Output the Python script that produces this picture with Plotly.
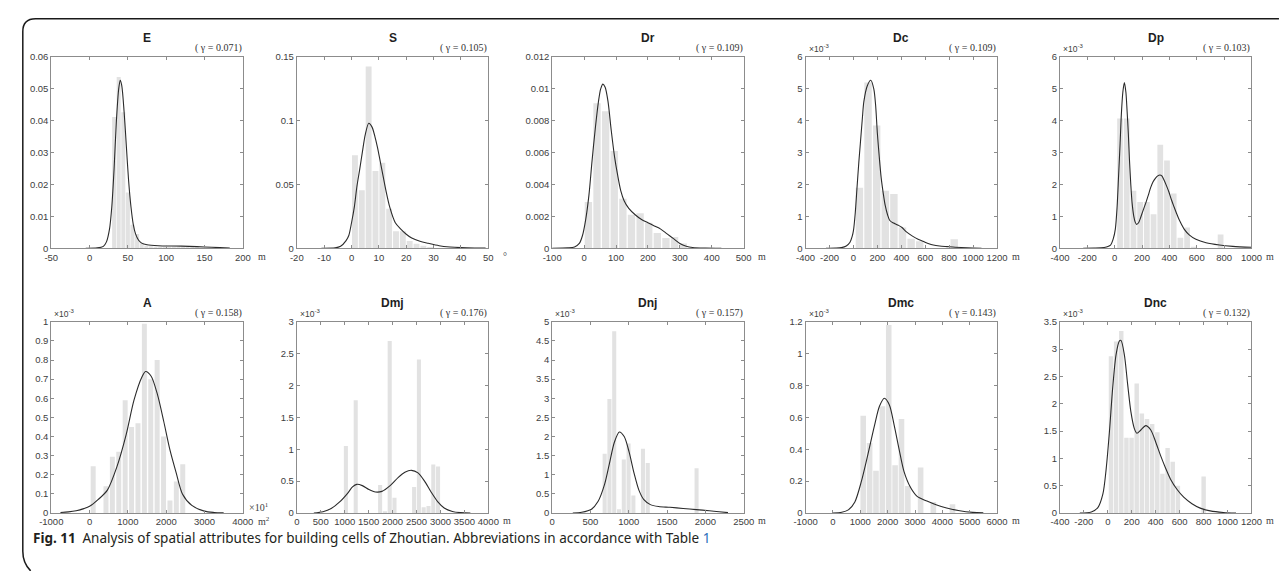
import plotly.graph_objects as go

W, H = 1287, 571

# ---------------- data ----------------
# E  (density)
E_bar_x = [32, 38, 44, 50, 56, 62, 68, 74, 80, 86, 92, 98, 104, 110, 116, 122, 128, 134, 140]
E_bar_y = [0.0412, 0.0537, 0.0427, 0.0175, 0.0074, 0.0045, 0.0017, 0.0008, 0.0006, 0.0005,
           0.0005, 0.0005, 0.0005, 0.0006, 0.0005, 0.0004, 0.0004, 0.0005, 0.0004]
E_kde_x = [-5, 10, 18, 22, 26, 29, 32, 35, 38, 40, 42, 45, 48, 51, 54, 57, 60, 64, 68, 75,
           90, 110, 130, 150, 170, 183]
E_kde_y = [0, 0.0001, 0.0006, 0.002, 0.006, 0.013, 0.025, 0.040, 0.050, 0.0527, 0.051, 0.043,
           0.032, 0.021, 0.013, 0.0075, 0.0045, 0.0025, 0.0016, 0.0011, 0.0008, 0.0007,
           0.0006, 0.0004, 0.0002, 0.00005]

# S
S_bar_x = [1.25, 3.75, 6.25, 8.75, 11.25, 13.75, 16.25, 18.75, 21.25, 23.75, 26.25, 28.75]
S_bar_y = [0.073, 0.0455, 0.1425, 0.0605, 0.067, 0.031, 0.0134, 0.0134, 0.0057, 0.0036, 0.002, 0.001]
S_kde_x = [-11, -6, -4, -2, -1, 0, 1, 2, 3, 4, 5, 6.3, 7.5, 8.5, 9.5, 10.5, 11.5, 12.5, 14, 16,
           18, 20, 22, 25, 28, 32, 36, 40, 45, 49]
S_kde_y = [0, 0.0003, 0.0015, 0.006, 0.01, 0.02, 0.032, 0.049, 0.062, 0.076, 0.089, 0.098,
           0.095, 0.088, 0.079, 0.068, 0.057, 0.046, 0.032, 0.02, 0.015, 0.011, 0.008, 0.0055,
           0.0039, 0.002, 0.001, 0.0005, 0.0002, 0.0001]

# Dr
Dr_bar_x = [13.5, 40.5, 67.5, 94.5, 121.5, 148.5, 175.5, 202.5, 229.5, 256.5, 283.5, 310.5]
Dr_bar_y = [0.0029, 0.0091, 0.0086, 0.0061, 0.0031, 0.0021, 0.0022, 0.0016, 0.00095, 0.00065,
            0.0007, 0.0003]
Dr_kde_x = [-100, -50, -30, -15, -5, 5, 15, 25, 35, 45, 52, 59, 66, 75, 85, 95, 105, 115, 125,
            140, 160, 180, 200, 220, 240, 260, 280, 300, 320, 340, 380, 430]
Dr_kde_y = [0, 0.00002, 0.00008, 0.0003, 0.0008, 0.0018, 0.0033, 0.0055, 0.0075, 0.0092, 0.0100,
            0.0103, 0.0101, 0.0092, 0.0074, 0.0058, 0.0046, 0.0036, 0.0030, 0.0025, 0.0021,
            0.0018, 0.0016, 0.0014, 0.0012, 0.0009, 0.0006, 0.0003, 0.00013, 0.00005, 0.00001, 0]

# Dc  (x10^-3)
Dc_bar_x = [50, 122, 194, 266, 338, 410, 482, 554, 842]
Dc_bar_y = [1.9, 5.2, 3.85, 1.8, 1.7, 0.65, 0.3, 0.22, 0.28]
Dc_kde_x = [-230, -150, -100, -60, -30, -10, 0, 15, 29, 45, 58, 75, 87, 116, 145, 170, 185,
            200, 215, 232, 250, 265, 285, 304, 330, 348, 375, 406, 440, 493, 540, 580, 630,
            667, 720, 783, 850, 950, 1070]
Dc_kde_y = [0, 0.005, 0.02, 0.07, 0.18, 0.38, 0.55, 1.1, 1.85, 2.7, 3.3, 4.1, 4.6, 5.1, 5.27,
            5.0, 4.5, 3.6, 2.9, 2.2, 1.7, 1.35, 1.05, 0.87, 0.8, 0.77, 0.72, 0.65, 0.52, 0.38,
            0.28, 0.22, 0.14, 0.1, 0.07, 0.05, 0.03, 0.01, 0]

# Dp  (x10^-3)
Dp_bar_x = [39.5, 88.5, 137.5, 186.5, 235.5, 284.5, 333.5, 382.5, 431.5, 480.5, 529.5, 578.5, 774.5]
Dp_bar_y = [4.07, 4.07, 1.8, 1.45, 1.45, 1.07, 3.25, 2.75, 1.72, 0.33, 0.65, 0.05, 0.43]
Dp_kde_x = [-230, -150, -100, -60, -30, -10, 5, 18, 29, 40, 49, 60, 71, 82, 91, 100, 108, 118,
            128, 140, 150, 160, 175, 189, 205, 226, 245, 263, 280, 299, 315, 331, 345, 360, 380,
            398, 415, 434, 452, 471, 490, 508, 545, 594, 668, 766, 864, 1000]
Dp_kde_y = [0, 0.003, 0.01, 0.04, 0.1, 0.3, 0.6, 1.3, 2.3, 3.3, 4.2, 4.9, 5.2, 4.9, 4.3, 3.6,
            2.8, 2.0, 1.4, 1.0, 0.82, 0.75, 0.8, 0.95, 1.15, 1.4, 1.65, 1.9, 2.08, 2.2, 2.27,
            2.3, 2.27, 2.15, 1.95, 1.75, 1.52, 1.3, 1.1, 0.9, 0.74, 0.6, 0.42, 0.28, 0.17, 0.1,
            0.06, 0.03]

# A  (x10^-3)
A_bar_x = [94, 428, 595, 762, 929, 1096, 1263, 1430, 1597, 1764, 1931, 2098, 2265, 2432]
A_bar_y = [0.245, 0.14, 0.295, 0.32, 0.59, 0.45, 0.47, 0.99, 0.70, 0.80, 0.40, 0.065, 0.165, 0.255]
A_kde_x = [-760, -550, -350, -150, 0, 220, 465, 710, 955, 1159, 1363, 1461, 1608, 1771, 1935,
           2098, 2261, 2424, 2669, 2996, 3250, 3500]
A_kde_y = [0.003, 0.006, 0.012, 0.023, 0.035, 0.07, 0.12, 0.24, 0.41, 0.59, 0.71, 0.74, 0.715,
           0.62, 0.48, 0.33, 0.21, 0.1, 0.04, 0.01, 0.003, 0.001]

# Dmj  (x10^-3)
Dmj_bar_x = [1025, 1230, 1740, 1840, 1940, 2040, 2450, 2550, 2650, 2750, 2850, 2950]
Dmj_bar_y = [1.05, 1.77, 0.44, 0.03, 2.70, 0.24, 0.41, 2.41, 0.09, 0.11, 0.76, 0.73]
Dmj_kde_x = [356, 547, 718, 889, 1060, 1163, 1252, 1368, 1505, 1642, 1778, 1949, 2120, 2257,
             2394, 2531, 2668, 2804, 2941, 3078, 3249, 3420, 3625]
Dmj_kde_y = [0, 0.02, 0.07, 0.17, 0.31, 0.41, 0.45, 0.43, 0.37, 0.33, 0.34, 0.43, 0.56, 0.64,
             0.67, 0.63, 0.5, 0.33, 0.18, 0.08, 0.025, 0.006, 0]

# Dnj  (x10^-3)
Dnj_bar_x = [685, 747.5, 810, 872.5, 935, 997.5, 1060, 1185, 1247.5, 1885]
Dnj_bar_y = [1.55, 2.98, 4.75, 0.1, 1.40, 1.82, 0.46, 1.68, 1.31, 1.17]
Dnj_kde_x = [269, 385, 513, 598, 684, 748, 812, 876, 940, 1004, 1068, 1132, 1197, 1282, 1389,
             1538, 1709, 1880, 2051, 2179, 2295]
Dnj_kde_y = [0, 0.02, 0.1, 0.3, 0.75, 1.3, 1.85, 2.12, 2.0, 1.6, 1.05, 0.6, 0.35, 0.22, 0.17,
             0.15, 0.12, 0.09, 0.06, 0.035, 0.01]

# Dmc  (x10^-3)
Dmc_bar_x = [1108, 1341, 1574, 1807, 2040, 2273, 2506, 2739, 3205, 3671, 4370]
Dmc_bar_y = [0.61, 0.44, 0.265, 0.67, 1.18, 0.30, 0.59, 0.17, 0.285, 0.07, 0.055]
Dmc_kde_x = [0, 323, 563, 802, 1042, 1281, 1521, 1701, 1880, 2060, 2240, 2419, 2599, 2838, 3078,
             3437, 3796, 4156, 4635, 5114, 5497]
Dmc_kde_y = [0, 0.005, 0.02, 0.07, 0.2, 0.37, 0.55, 0.67, 0.72, 0.68, 0.55, 0.4, 0.26, 0.16,
             0.105, 0.075, 0.05, 0.032, 0.014, 0.004, 0.001]

# Dnc  (x10^-3)
Dnc_bar_x = [26.5, 69.5, 112.5, 155.5, 198.5, 241.5, 284.5, 327.5, 370.5, 413.5, 456.5, 499.5,
             542.5, 585.5, 800.5]
Dnc_bar_y = [2.87, 3.14, 3.33, 1.38, 1.38, 2.37, 1.82, 1.72, 1.63, 1.48, 0.72, 1.19, 0.94, 0.50, 0.67]
Dnc_kde_x = [-234, -138, -83, -41, -14, 14, 41, 69, 97, 110, 138, 166, 193, 221, 243, 276, 317,
             359, 400, 441, 483, 524, 579, 634, 703, 772, 855, 966, 1071]
Dnc_kde_y = [0, 0.02, 0.1, 0.35, 0.8, 1.5, 2.3, 2.9, 3.15, 3.16, 2.9, 2.35, 1.85, 1.55, 1.46,
             1.52, 1.6, 1.52, 1.3, 1.05, 0.82, 0.62, 0.43, 0.29, 0.17, 0.09, 0.04, 0.01, 0]

titles = ["E", "S", "Dr", "Dc", "Dp", "A", "Dmj", "Dnj", "Dmc", "Dnc"]
gammas = ["0.071", "0.105", "0.109", "0.109", "0.103", "0.158", "0.176", "0.157", "0.143", "0.132"]
units = ["m", "°", "m", "m", "m", "m<sup>2</sup>", "m", "m", "m", "m"]
x_ticks = [
    [-50, 0, 50, 100, 150, 200],
    [-20, -10, 0, 10, 20, 30, 40, 50],
    [-100, 0, 100, 200, 300, 400, 500],
    [-400, -200, 0, 200, 400, 600, 800, 1000, 1200],
    [-400, -200, 0, 200, 400, 600, 800, 1000],
    [-1000, 0, 1000, 2000, 3000, 4000],
    [0, 500, 1000, 1500, 2000, 2500, 3000, 3500, 4000],
    [0, 500, 1000, 1500, 2000, 2500],
    [-1000, 0, 1000, 2000, 3000, 4000, 5000, 6000],
    [-400, -200, 0, 200, 400, 600, 800, 1000, 1200],
]
y_ticks = [
    [0, 0.01, 0.02, 0.03, 0.04, 0.05, 0.06],
    [0, 0.05, 0.1, 0.15],
    [0, 0.002, 0.004, 0.006, 0.008, 0.01, 0.012],
    [0, 1, 2, 3, 4, 5, 6],
    [0, 1, 2, 3, 4, 5, 6],
    [0, 0.1, 0.2, 0.3, 0.4, 0.5, 0.6, 0.7, 0.8, 0.9, 1],
    [0, 0.5, 1, 1.5, 2, 2.5, 3],
    [0, 0.5, 1, 1.5, 2, 2.5, 3, 3.5, 4, 4.5, 5],
    [0, 0.2, 0.4, 0.6, 0.8, 1, 1.2],
    [0, 0.5, 1, 1.5, 2, 2.5, 3, 3.5],
]
scaled = [False, False, False, True, True, True, True, True, True, True]

bars = [(E_bar_x, E_bar_y), (S_bar_x, S_bar_y), (Dr_bar_x, Dr_bar_y), (Dc_bar_x, Dc_bar_y),
        (Dp_bar_x, Dp_bar_y), (A_bar_x, A_bar_y), (Dmj_bar_x, Dmj_bar_y), (Dnj_bar_x, Dnj_bar_y),
        (Dmc_bar_x, Dmc_bar_y), (Dnc_bar_x, Dnc_bar_y)]
kdes = [(E_kde_x, E_kde_y), (S_kde_x, S_kde_y), (Dr_kde_x, Dr_kde_y), (Dc_kde_x, Dc_kde_y),
        (Dp_kde_x, Dp_kde_y), (A_kde_x, A_kde_y), (Dmj_kde_x, Dmj_kde_y), (Dnj_kde_x, Dnj_kde_y),
        (Dmc_kde_x, Dmc_kde_y), (Dnc_kde_x, Dnc_kde_y)]

# ---------------- styling / layout ----------------
bar_widths = [5.2, 2.15, 23, 62, 42, 130, 85, 53, 204, 37]
col_left = [40, 290, 550, 808, 1067]
PW = 195
row_top = [52, 322]
PH = 195

BAR_COLOR = "#e2e2e2"
LINE_COLOR = "#2b2b2b"
AX_COLOR = "#8c8c8c"
TICK_FONT = dict(family="Liberation Sans, Arial, sans-serif", size=9.5, color="#404040")


def px(x):
    return x / W


def py(y):
    return 1 - y / H


def fmt(v):
    return f"{v:g}"


fig = go.Figure()
annotations = []
layout_axes = {}

for i in range(10):
    r, c = divmod(i, 5)
    left = col_left[c]
    top = row_top[r]
    right = left + PW
    bottom = top + PH
    xa = "x" if i == 0 else f"x{i+1}"
    ya = "y" if i == 0 else f"y{i+1}"
    xkey = "xaxis" if i == 0 else f"xaxis{i+1}"
    ykey = "yaxis" if i == 0 else f"yaxis{i+1}"

    bx, by = bars[i]
    kx, ky = kdes[i]
    fig.add_trace(go.Bar(x=bx, y=by, width=bar_widths[i], marker=dict(color=BAR_COLOR, line=dict(width=0)),
                         xaxis=xa, yaxis=ya, hoverinfo="skip"))
    fig.add_trace(go.Scatter(x=kx, y=ky, mode="lines",
                             line=dict(color=LINE_COLOR, width=1.1, shape="spline", smoothing=0.8),
                             xaxis=xa, yaxis=ya, hoverinfo="skip"))

    xt = x_ticks[i]
    yt = y_ticks[i]
    layout_axes[xkey] = dict(
        domain=[px(left), px(right)], anchor=ya, range=[xt[0], xt[-1]],
        tickvals=xt, ticktext=[fmt(v) for v in xt], ticks="inside", ticklen=3, tickangle=0,
        tickcolor=AX_COLOR, showline=True, linecolor=AX_COLOR, linewidth=1, mirror="ticks",
        showgrid=False, zeroline=False, tickfont=TICK_FONT, fixedrange=True,
    )
    layout_axes[ykey] = dict(
        domain=[py(bottom), py(top)], anchor=xa, range=[yt[0], yt[-1]],
        tickvals=yt, ticktext=[fmt(v) for v in yt], ticks="inside", ticklen=3, tickangle=0,
        tickcolor=AX_COLOR, showline=True, linecolor=AX_COLOR, linewidth=1, mirror="ticks",
        showgrid=False, zeroline=False, tickfont=TICK_FONT, fixedrange=True,
    )

    # title
    annotations.append(dict(x=px((left + right) / 2), y=py(top - 19), xref="paper", yref="paper",
                            text=f"<b>{titles[i]}</b>", showarrow=False, xanchor="center", yanchor="middle",
                            font=dict(family="Liberation Sans, Arial, sans-serif", size=12, color="#1e1e1e")))
    # gamma
    annotations.append(dict(x=px(right + 1), y=py(top - 1), xref="paper", yref="paper",
                            text=f"( γ = {gammas[i]})", showarrow=False, xanchor="right", yanchor="bottom",
                            font=dict(family="Liberation Serif, Times New Roman, serif", size=10, color="#333333")))
    # exponent
    if scaled[i]:
        annotations.append(dict(x=px(left + 1), y=py(top - 1), xref="paper", yref="paper",
                                text="×10<sup>-3</sup>", showarrow=False, xanchor="left", yanchor="bottom",
                                font=dict(family="Liberation Sans, Arial, sans-serif", size=8.5, color="#404040")))
    # unit
    annotations.append(dict(x=px(right + 13), y=py(bottom + 8), xref="paper", yref="paper",
                            text=units[i], showarrow=False, xanchor="left", yanchor="middle",
                            font=dict(family="Liberation Serif, Times New Roman, serif", size=10, color="#404040")))
    if titles[i] == "A":
        annotations.append(dict(x=px(right + 4), y=py(bottom - 6), xref="paper", yref="paper",
                                text="×10<sup>1</sup>", showarrow=False, xanchor="left", yanchor="middle",
                                font=dict(family="Liberation Serif, Times New Roman, serif", size=10, color="#404040")))

# caption
annotations.append(dict(
    x=px(19), y=py(542), xref="paper", yref="paper", showarrow=False, xanchor="left", yanchor="middle",
    text="<b>Fig. 11</b>\u2002Analysis of spatial attributes for building cells of Zhoutian. Abbreviations in accordance with Table <span style='color:#2a6ebb'>1</span>",
    font=dict(family="Noto Sans, Open Sans, sans-serif", size=13.5, color="#231f20"),
))

# frame (rounded corner border)
frame_path = (
    f"M {px(1290)} {py(13)} L {px(24)} {py(13)} "
    f"Q {px(11)} {py(13)} {px(11)} {py(26)} "
    f"L {px(11)} {py(556)} Q {px(11)} {py(568)} {px(19)} {py(576)}"
)

fig.update_layout(
    width=W, height=H, margin=dict(l=0, r=0, t=0, b=0),
    paper_bgcolor="white", plot_bgcolor="white",
    showlegend=False, barmode="overlay",
    annotations=annotations,
    shapes=[dict(type="path", xref="paper", yref="paper", path=frame_path,
                 line=dict(color="#1a1a1a", width=1.5))],
    **layout_axes,
)

fig.write_html("out.html")
